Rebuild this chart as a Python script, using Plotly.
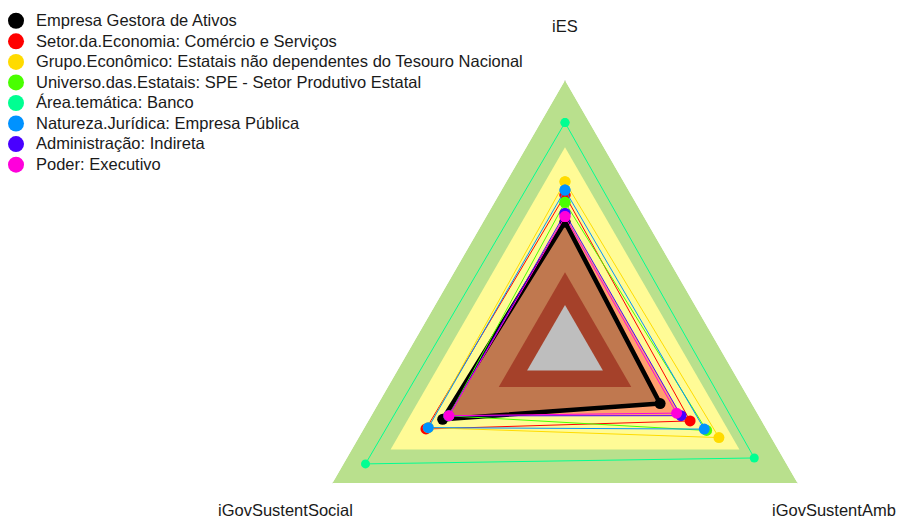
import math
import plotly.graph_objects as go

# radar axes (clockwise from the top)
axes = ["iES", "iGovSustentAmb", "iGovSustentSocial"]
axis_angles = [90, -30, 210]  # screen angle of each axis, degrees

series_names = [
    "Empresa Gestora de Ativos",
    "Setor.da.Economia: Comércio e Serviços",
    "Grupo.Econômico: Estatais não dependentes do Tesouro Nacional",
    "Universo.das.Estatais: SPE - Setor Produtivo Estatal",
    "Área.temática: Banco",
    "Natureza.Jurídica: Empresa Pública",
    "Administração: Indireta",
    "Poder: Executivo",
]
series_colors = ["#000000", "#FF0000", "#FFDB00", "#49FF00",
                 "#00FF92", "#0092FF", "#4900FF", "#FF00DB"]

# values on iES, iGovSustentAmb, iGovSustentSocial (fraction of outer ring)
gestora = [0.472, 0.409, 0.526]
setor_economia = [0.572, 0.538, 0.598]
grupo_economico = [0.622, 0.662, 0.588]
universo_estatais = [0.545, 0.609, 0.500]
area_tematica = [0.842, 0.814, 0.858]
natureza_juridica = [0.591, 0.599, 0.588]
administracao = [0.504, 0.499, 0.500]
poder = [0.492, 0.480, 0.499]

series_values = [gestora, setor_economia, grupo_economico, universo_estatais,
                 area_tematica, natureza_juridica, administracao, poder]

# background bands (outer edge of each band)
outer_levels = [1.0, 0.75, 0.50]
outer_colors = ["#B9E08D", "#FFFB96", "#FFA06E"]
inner_levels = [0.285, 0.163]
inner_colors = ["#A5412A", "#BEBEBE"]
gestora_fill = "#C0784F"

W, H = 907, 620
OFF = 8  # page body margin
cx, cy, R = 565 - OFF, 348.7 - OFF, 268.5
right_limit = 890  # last visible pixel column inside the figure

closed = axes + [axes[0]]


def band(level, color):
    return go.Scatterpolar(
        r=[level] * 4, theta=closed, mode="lines", fill="toself",
        fillcolor=color, line=dict(width=0, color=color),
        hoverinfo="skip", showlegend=False)


fig = go.Figure()

for level, color in zip(outer_levels, outer_colors):
    fig.add_trace(band(level, color))

# filled area of the reference company
fig.add_trace(go.Scatterpolar(
    r=gestora + [gestora[0]], theta=closed, mode="lines", fill="toself",
    fillcolor=gestora_fill, line=dict(width=0, color=gestora_fill),
    hoverinfo="skip", showlegend=False))

for level, color in zip(inner_levels, inner_colors):
    fig.add_trace(band(level, color))

# series
for name, color, vals in zip(series_names, series_colors, series_values):
    is_black = color == "#000000"
    is_teal = color == "#00FF92"
    fig.add_trace(go.Scatterpolar(
        r=vals + [vals[0]], theta=closed,
        mode="lines+markers", name=name,
        line=dict(color=color, width=4.5 if is_black else 1),
        marker=dict(color=color, size=9 if is_teal else 11),
        showlegend=False))

# legend entries (dots only); bigger text than the legend line height
for name, color in zip(series_names, series_colors):
    fig.add_trace(go.Scatterpolar(
        r=[None], theta=[axes[0]], mode="markers",
        name=f'<span style="font-size:16.5px">{name}</span>',
        marker=dict(color=color, size=16), showlegend=True))

# axis labels outside the outer ring
annotations = []
for label, ang in zip(axes, axis_angles):
    px = cx + 1.2 * R * math.cos(math.radians(ang))
    py = cy - 1.2 * R * math.sin(math.radians(ang))
    anchor = "center"
    if px + 62 > right_limit:
        px, anchor = right_limit, "right"
    annotations.append(dict(
        text=label, x=px / W, y=1 - py / H, xref="paper", yref="paper",
        xanchor=anchor, yanchor="middle", showarrow=False,
        font=dict(family="Liberation Sans, Arial", size=16.5, color="#1a1a1a")))

fig.update_layout(
    width=W, height=H,
    margin=dict(l=0, r=0, t=0, b=0, autoexpand=False),
    paper_bgcolor="white",
    font=dict(family="Liberation Sans, Arial", size=13.5, color="#1a1a1a"),
    annotations=annotations,
    polar=dict(
        domain=dict(x=[(cx - R) / W, (cx + R) / W],
                    y=[1 - (cy + R) / H, 1 - (cy - R) / H]),
        gridshape="linear",
        bgcolor="rgba(0,0,0,0)",
        radialaxis=dict(visible=False, range=[0, 1]),
        angularaxis=dict(type="category", categoryarray=axes, rotation=90,
                         direction="clockwise", showticklabels=False, ticks="",
                         showline=False, showgrid=True, gridcolor="#D3D3D3",
                         gridwidth=1, layer="above traces"),
    ),
    legend=dict(x=-12 / W, y=1 + 2.5 / H, xanchor="left", yanchor="top",
                bgcolor="rgba(0,0,0,0)", itemwidth=30,
                font=dict(family="Liberation Sans, Arial", size=13.5)),
)

fig.write_html("out.html")
